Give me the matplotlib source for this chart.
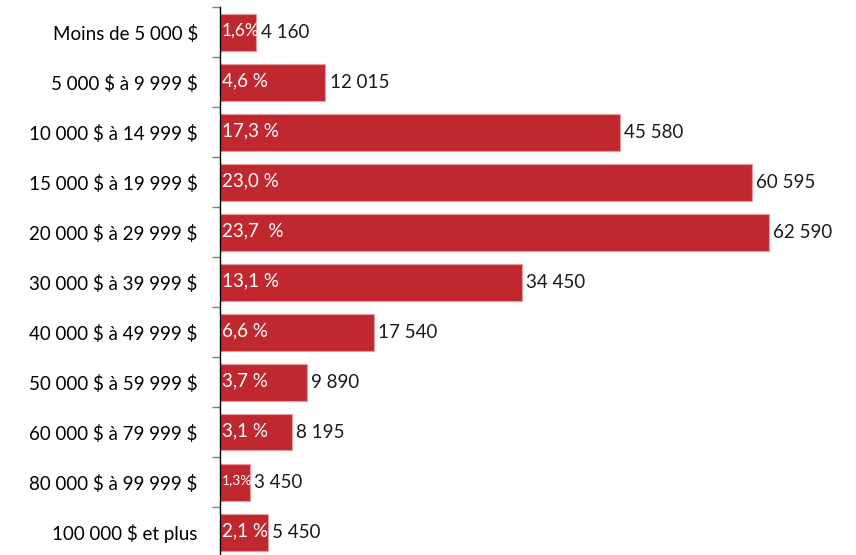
import matplotlib.pyplot as plt

# Data
categories = ['Moins de 5 000 $', '5 000 $ à 9 999 $', '10 000 $ à 14 999 $',
              '15 000 $ à 19 999 $', '20 000 $ à 29 999 $', '30 000 $ à 39 999 $',
              '40 000 $ à 49 999 $', '50 000 $ à 59 999 $', '60 000 $ à 79 999 $',
              '80 000 $ à 99 999 $', '100 000 $ et plus']
values = [4160, 12015, 45580, 60595, 62590, 34450, 17540, 9890, 8195, 3450, 5450]
value_labels = ['4 160', '12 015', '45 580', '60 595', '62 590', '34 450',
                '17 540', '9 890', '8 195', '3 450', '5 450']
pct_labels = ['1,6%', '4,6 %', '17,3 %', '23,0 %', '23,7  %', '13,1 %',
              '6,6 %', '3,7 %', '3,1 %', '1,3%', '2,1 %']
pct_sizes = [12.5, 13.5, 13.5, 13.5, 13.5, 13.5, 13.5, 13.5, 13.5, 10, 13.5]

plt.rcParams['font.family'] = ['Lato', 'DejaVu Sans']

fig = plt.figure(figsize=(8.56, 5.55), dpi=100)
ax = fig.add_axes([220 / 856, -2 / 555, 636 / 856, 550 / 555])

y = list(range(len(categories)))
bars = ax.barh(y, values, height=0.74, color='#C0282F', edgecolor='#E79A9D', linewidth=0.8)

for i, b in enumerate(bars):
    w = b.get_width()
    ax.annotate(value_labels[i], (w, i), xytext=(3, 0), textcoords='offset points',
                va='center', ha='left', fontsize=13.5, color='#1a1a1a')
    ax.annotate(pct_labels[i], (0, i), xytext=(1.5, 1), textcoords='offset points',
                va='center', ha='left', fontsize=pct_sizes[i], color='white')

ax.set_ylim(len(categories) - 0.5, -0.5)
ax.set_xlim(0, 72500)

ax.set_yticks(y)
ax.set_yticklabels([c.replace('$', r'\$') for c in categories], fontsize=13.5)
ax.set_yticks([i - 0.5 for i in range(len(categories) + 1)], minor=True)
ax.tick_params(axis='y', which='major', length=0, pad=16)
ax.tick_params(axis='y', which='minor', length=6, color='#7f7f7f', width=1)
ax.set_xticks([])

for s in ['top', 'right', 'bottom']:
    ax.spines[s].set_visible(False)
ax.spines['left'].set_color('black')
ax.spines['left'].set_linewidth(1)

fig.savefig('out.png', dpi=100)
